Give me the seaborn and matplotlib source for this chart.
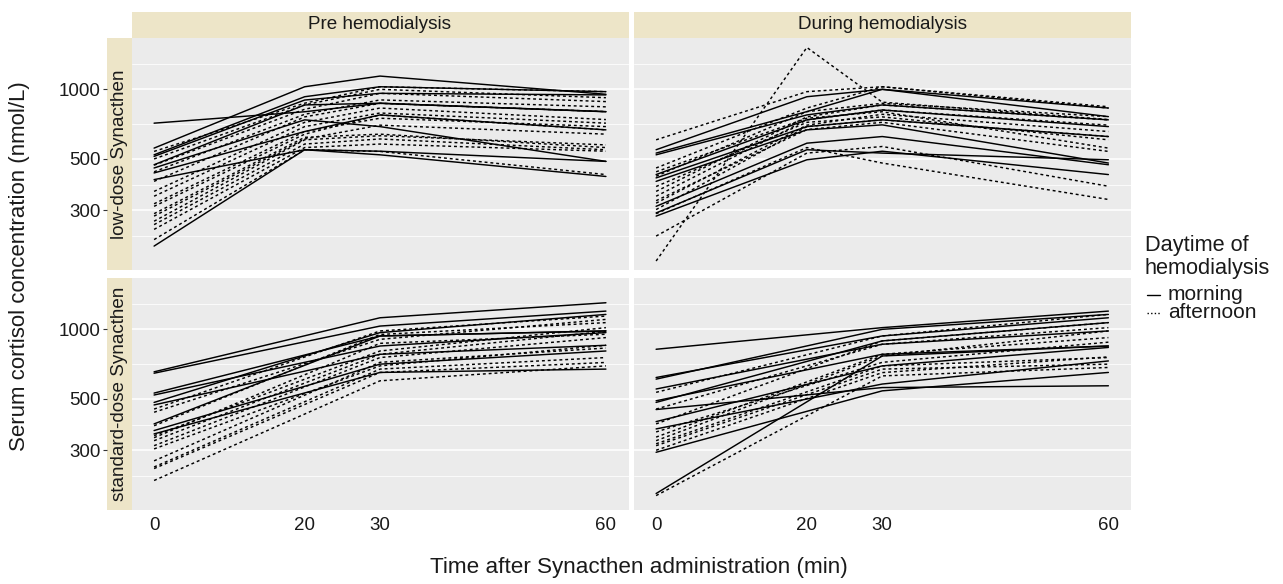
import numpy as np
import pandas as pd
import matplotlib
matplotlib.use("Agg")
import matplotlib.pyplot as plt
from matplotlib.lines import Line2D
import seaborn as sns

# ---------------- data ----------------
time_low = [0, 20, 30, 60]
time_std = [0, 30, 60]

pre_low_morning = [
    [714, 800, 870, 800],
    [557, 1026, 1141, 952],
    [521, 929, 1026, 977],
    [513, 899, 961, 946],
    [472, 856, 871, 801],
    [457, 738, 690, 488],
    [435, 657, 775, 668],
    [407, 548, 521, 420],
    [210, 548, 540, 488],
]
pre_low_afternoon = [
    [539, 871, 1026, 977],
    [500, 856, 1000, 920],
    [470, 820, 961, 885],
    [440, 780, 900, 840],
    [400, 760, 870, 801],
    [362, 720, 830, 740],
    [345, 690, 790, 714],
    [320, 657, 750, 690],
    [312, 640, 775, 668],
    [283, 610, 700, 640],
    [269, 605, 630, 575],
    [260, 580, 610, 548],
    [248, 560, 580, 540],
    [224, 548, 539, 428],
    [290, 620, 640, 560],
]
dur_low_morning = [
    [548, 929, 1000, 762],
    [530, 801, 1000, 830],
    [521, 775, 856, 738],
    [428, 738, 814, 690],
    [414, 690, 738, 625],
    [400, 668, 702, 480],
    [312, 585, 625, 472],
    [292, 548, 530, 496],
    [283, 496, 540, 428],
]
dur_low_afternoon = [
    [605, 977, 1026, 841],
    [181, 1517, 880, 740],
    [457, 830, 1026, 830],
    [421, 801, 870, 762],
    [362, 760, 856, 738],
    [345, 738, 814, 700],
    [322, 700, 780, 657],
    [302, 690, 738, 625],
    [232, 530, 566, 381],
    [290, 560, 480, 334],
    [380, 720, 760, 605],
    [440, 750, 800, 557],
    [330, 670, 720, 539],
]
pre_std_morning = [
    [655, 1122, 1303],
    [646, 1033, 1199],
    [530, 936, 984],
    [520, 847, 968],
    [483, 968, 1160],
    [471, 780, 853],
    [390, 936, 984],
    [365, 707, 806],
    [353, 651, 673],
]
pre_std_afternoon = [
    [452, 984, 1141],
    [438, 905, 1104],
    [383, 950, 1069],
    [347, 806, 1017],
    [340, 870, 952],
    [314, 755, 921],
    [304, 695, 853],
    [254, 673, 755],
    [250, 651, 719],
    [222, 599, 695],
    [330, 780, 980],
    [270, 720, 830],
]
dur_std_morning = [
    [820, 1017, 1199],
    [619, 936, 1122],
    [609, 1000, 1160],
    [552, 862, 984],
    [491, 780, 847],
    [483, 891, 1069],
    [399, 695, 835],
    [371, 580, 730],
    [294, 542, 651],
    [195, 767, 847],
    [450, 560, 570],
]
dur_std_afternoon = [
    [534, 936, 1160],
    [452, 862, 1017],
    [390, 891, 1069],
    [342, 780, 921],
    [330, 767, 984],
    [320, 695, 755],
    [314, 673, 707],
    [191, 629, 684],
    [360, 720, 880],
    [300, 650, 760],
]

sessions = ["Pre hemodialysis", "During hemodialysis"]
doses = ["low-dose Synacthen", "standard-dose Synacthen"]
daytimes = ["morning", "afternoon"]
x_breaks = [0, 20, 30, 60]
y_breaks = [300, 500, 1000]
y_labels = ["300", "500", "1000"]
legend_title = ["Daytime of", "hemodialysis"]

panel_data = {
    (sessions[0], doses[0]): (time_low, pre_low_morning, pre_low_afternoon),
    (sessions[1], doses[0]): (time_low, dur_low_morning, dur_low_afternoon),
    (sessions[0], doses[1]): (time_std, pre_std_morning, pre_std_afternoon),
    (sessions[1], doses[1]): (time_std, dur_std_morning, dur_std_afternoon),
}

rows = []
sid = 0
for (sess, dose), (times, morn, aft) in panel_data.items():
    for daytime, series in (("morning", morn), ("afternoon", aft)):
        for vals in series:
            sid += 1
            for t, v in zip(times, vals):
                rows.append(dict(session=sess, dose=dose, daytime=daytime,
                                 subject=sid, time=t, cortisol=v))
df = pd.DataFrame(rows)

# ---------------- style ----------------
sns.set_theme(style="darkgrid")
plt.rcParams["font.family"] = ["Liberation Sans", "DejaVu Sans"]

W, H = 1283, 584
fig = plt.figure(figsize=(W / 100, H / 100), dpi=100)

PANEL_BG = "#EBEBEB"
STRIP_BG = "#EDE5C8"
TXT = "#1A1A1A"
DASHES = (2, 2)

col_x = [(131.5, 628.5), (633.5, 1131.0)]
row_y = [(38.0, 270.0), (278.0, 510.0)]
ylim = (165.5, 1667)
xlim = (-3, 63)

# ggplot-like minor breaks (log-space midpoints, extended one step)
lb = np.log10(y_breaks)
step = lb[1] - lb[0]
ext = np.concatenate([[lb[0] - step], lb, [lb[-1] + step]])
minor = 10 ** ((ext[:-1] + ext[1:]) / 2)


def fig_rect(x0, x1, y0, y1):
    return [x0 / W, 1 - y1 / H, (x1 - x0) / W, (y1 - y0) / H]


for r, dose in enumerate(doses):
    for c, sess in enumerate(sessions):
        x0, x1 = col_x[c]
        y0, y1 = row_y[r]
        ax = fig.add_axes(fig_rect(x0, x1, y0, y1))
        ax.set_facecolor(PANEL_BG)
        sub = df[(df.session == sess) & (df.dose == dose)]
        sns.lineplot(data=sub, x="time", y="cortisol", units="subject",
                     estimator=None, style="daytime", style_order=daytimes,
                     dashes={"morning": "", "afternoon": DASHES},
                     color="black", linewidth=1.05, legend=False, ax=ax)
        ax.set_yscale("log")
        ax.set_ylim(*ylim)
        ax.set_xlim(*xlim)
        ax.set_yticks(y_breaks)
        ax.set_yticks(minor, minor=True)
        ax.set_yticklabels([])
        ax.yaxis.set_minor_formatter(plt.NullFormatter())
        ax.grid(False)
        ax.grid(True, which="major", axis="y", color="white", lw=1.1)
        ax.grid(True, which="minor", axis="y", color="white", lw=0.55)
        ax.set_axisbelow(True)
        ax.tick_params(axis="y", which="both", length=0, labelleft=False)
        ax.set_xticks(x_breaks)
        if r == 1:
            ax.tick_params(axis="x", length=3, width=0.8, color="#333333",
                           pad=2, labelsize=13.5, labelcolor=TXT)
        else:
            ax.tick_params(axis="x", length=0, labelbottom=False)
        ax.set_xlabel("")
        ax.set_ylabel("")
        for s in ax.spines.values():
            s.set_visible(False)

        # top strips
        if r == 0:
            sa = fig.add_axes(fig_rect(x0, x1, 12.0, 37.8))
            sa.set_facecolor(STRIP_BG)
            sa.set_xticks([]); sa.set_yticks([]); sa.grid(False)
            for s in sa.spines.values():
                s.set_visible(False)
            sa.text(0.5, 0.5, sess, ha="center", va="center",
                    fontsize=13.6, color=TXT, transform=sa.transAxes)
        # left strips with y-axis ticks
        if c == 0:
            la = fig.add_axes(fig_rect(107.0, 131.7, y0, y1))
            la.set_facecolor(STRIP_BG)
            la.set_yscale("log")
            la.set_ylim(*ylim)
            la.set_yticks(y_breaks, labels=y_labels)
            la.set_yticks([], minor=True)
            la.set_xticks([])
            la.grid(False)
            la.tick_params(axis="y", which="major", length=3, width=0.8,
                           color="#333333", pad=1.5, labelsize=13.5,
                           labelcolor=TXT, left=True)
            for s in la.spines.values():
                s.set_visible(False)
            la.text(0.5, 0.5, dose, ha="center", va="center", rotation=90,
                    fontsize=13.6, color=TXT, transform=la.transAxes)

fig.text(20 / W, 1 - 266 / H, "Serum cortisol concentration (nmol/L)",
         rotation=90, ha="center", va="center", fontsize=16, color=TXT)
fig.text(639 / W, 1 - 568 / H, "Time after Synacthen administration (min)",
         ha="center", va="center", fontsize=16.2, color=TXT)

# legend drawn manually (ggplot-like placement)
fig.text(1145 / W, 1 - 251 / H, legend_title[0], ha="left", va="baseline",
         fontsize=15.7, color=TXT)
fig.text(1145 / W, 1 - 274 / H, legend_title[1], ha="left", va="baseline",
         fontsize=15.7, color=TXT)
key_styles = [dict(ls="-"), dict(dashes=(1, 1.6))]
for i, (lab, ks) in enumerate(zip(daytimes, key_styles)):
    base = 300 + i * 17.5
    fig.add_artist(Line2D([1147 / W, 1160 / W],
                          [1 - (base - 5) / H, 1 - (base - 5) / H],
                          transform=fig.transFigure, color="black", lw=1.0, **ks))
    fig.text(1168 / W, 1 - base / H, lab, ha="left", va="baseline",
             fontsize=15, color=TXT)

fig.savefig("out.png", dpi=100, facecolor="white")
